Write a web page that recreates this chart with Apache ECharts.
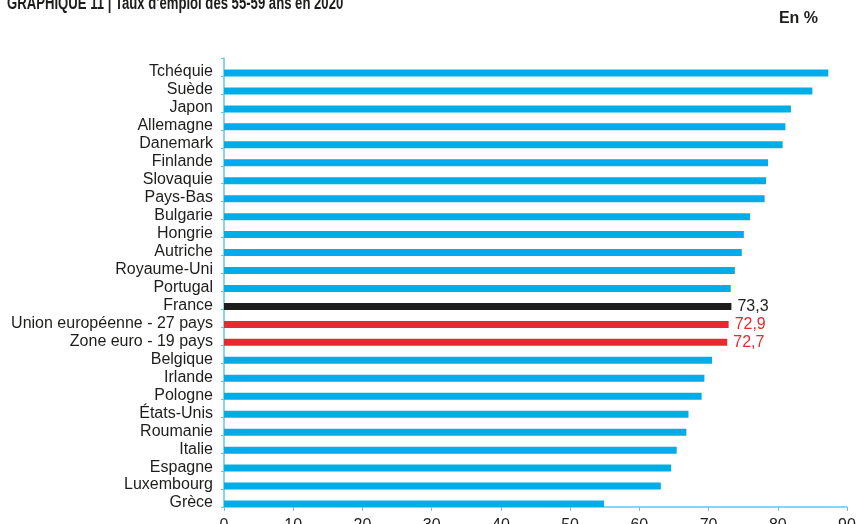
<!DOCTYPE html>
<html lang="fr">
<head>
    <meta charset="UTF-8">
    <title>Taux d'emploi des 55-59 ans en 2020</title>
    <script src="https://cdn.jsdelivr.net/npm/echarts@6/dist/echarts.min.js"></script>
</head>
<body style="margin:0;background:#fff;">
<div id="main" style="width:860px;height:524px;"></div>

<script type="text/javascript">
    // pays, du plus haut au plus bas
    var pays = ['Tchéquie', 'Suède', 'Japon', 'Allemagne', 'Danemark', 'Finlande', 'Slovaquie',
        'Pays-Bas', 'Bulgarie', 'Hongrie', 'Autriche', 'Royaume-Uni', 'Portugal', 'France',
        'Union européenne - 27 pays', 'Zone euro - 19 pays', 'Belgique', 'Irlande', 'Pologne',
        'États-Unis', 'Roumanie', 'Italie', 'Espagne', 'Luxembourg', 'Grèce'];
    var taux = [87.3, 85.0, 81.9, 81.1, 80.7, 78.6, 78.3, 78.1, 76.0, 75.1, 74.8, 73.8, 73.2, 73.3,
        72.9, 72.7, 70.5, 69.4, 69.0, 67.1, 66.8, 65.4, 64.6, 63.1, 54.9];
    var enNoir = ['France'];
    var enRouge = ['Union européenne - 27 pays', 'Zone euro - 19 pays'];
    var ticksX = [0, 10, 20, 30, 40, 50, 60, 70, 80, 90];

    var bleu = '#00ade6', noir = '#1d1d1b', rouge = '#e8292f', axe = '#62c6ef';
    var police = 'Liberation Sans';

    var donnees = [];
    for (var i = 0; i < pays.length; i++) {
        var item = {value: taux[i]};
        if (enNoir.indexOf(pays[i]) >= 0 || enRouge.indexOf(pays[i]) >= 0) {
            var c = enNoir.indexOf(pays[i]) >= 0 ? noir : rouge;
            item.itemStyle = {color: c};
            item.label = {
                show: true, position: 'right', distance: 6, color: c,
                fontSize: 16, fontFamily: police,
                formatter: function (p) { return String(p.value).replace('.', ','); }
            };
        }
        donnees.push(item);
    }
    // série vide pour décaler les barres vers le bas de chaque case
    var vide = pays.map(function () { return null; });

    var myChart = echarts.init(document.getElementById('main'));
    var option = {
        animation: false,
        // titre en police étroite : on compresse le texte horizontalement
        graphic: [{
            type: 'text', x: 7, y: 13, scaleX: 0.75,
            style: {
                text: "GRAPHIQUE 11 | Taux d'emploi des 55-59 ans en 2020",
                font: 'bold 17.5px "Liberation Sans"', fill: '#1d1d1b', verticalAlign: 'bottom'
            }
        }],
        title: {
            text: 'En %',
            right: 37, top: 6,
            textStyle: {fontFamily: police, fontSize: 16, fontWeight: 'bold', color: '#1d1d1b'}
        },
        grid: {left: 224, right: 13, top: 58, bottom: 17, outerBoundsMode: 'none'},
        xAxis: {
            type: 'value', min: ticksX[0], max: ticksX[ticksX.length - 1], interval: 10,
            axisLine: {show: true, lineStyle: {color: axe, width: 1.5}},
            axisTick: {show: true, length: 4, lineStyle: {color: axe}},
            splitLine: {show: false},
            axisLabel: {color: '#1d1d1b', fontSize: 16, fontFamily: police, margin: 11}
        },
        yAxis: {
            type: 'category', data: pays, inverse: true,
            axisLine: {lineStyle: {color: axe, width: 1.5}},
            axisTick: {show: true, interval: 0, length: 3, lineStyle: {color: axe}},
            axisLabel: {interval: 0, color: '#1d1d1b', fontSize: 16, fontFamily: police, margin: 11,
                verticalAlign: 'top', lineHeight: 10}
        },
        series: [{
            type: 'bar', data: vide, barWidth: 7, barGap: '71%', silent: true
        }, {
            type: 'bar', data: donnees, barWidth: 7,
            itemStyle: {color: bleu}
        }]
    };
    myChart.setOption(option);
</script>
</body>
</html>
